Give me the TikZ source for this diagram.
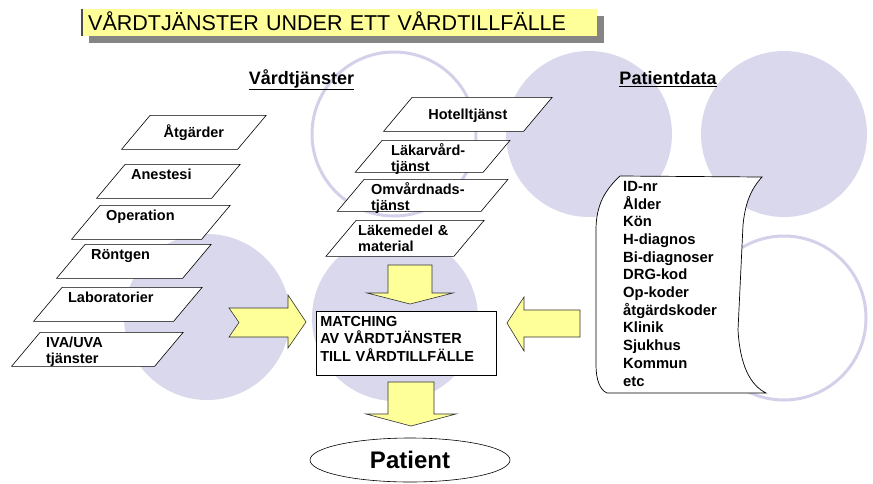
\documentclass[tikz,border=0pt]{standalone}
\usepackage{fontspec}
\setmainfont{Liberation Sans}
\usetikzlibrary{shapes.geometric, shadows}
\definecolor{lavender}{HTML}{D9D8EC}
\definecolor{lavring}{HTML}{D3D1EA}
\definecolor{paleyellow}{HTML}{FFFF99}
\definecolor{shadowgray}{HTML}{858585}

\newcommand{\boxfont}{\fontsize{14.5}{16.5}\selectfont\bfseries}

\begin{document}
\begin{tikzpicture}[
    x=1pt, y=-1pt,
    bubble/.style={circle, fill=lavender, minimum size=166pt, inner sep=0pt},
    ring/.style={circle, draw=lavring, line width=3pt, minimum size=164pt, inner sep=0pt},
    pgram/.style 2 args={trapezium, trapezium left angle=50, trapezium right angle=130,
                 draw=black, fill=white, line width=0.6pt, font=\boxfont,
                 text width=#1, align=left, inner xsep=6pt, inner ysep=0pt,
                 text height=15pt, text depth=#2, anchor=top left corner},
    heading/.style={font=\fontsize{18}{20}\selectfont\bfseries, anchor=base, inner sep=0pt},
    fatarrow/.style={fill=paleyellow, draw=black!80, line width=0.6pt, line join=miter},
  ]
    \useasboundingbox (0,0) rectangle (873,483);

    % background circles
    \foreach \cx/\cy in {207/317, 395/318, 589/134, 784/134}
      \node[bubble] (b-\cx-\cy) at (\cx,\cy) {};
    \foreach \cx/\cy in {394/134, 784/318}
      \node[ring] (r-\cx-\cy) at (\cx,\cy) {};

    % Title
    \node[fill=paleyellow,
          drop shadow={shadow xshift=7pt, shadow yshift=-7pt, fill=shadowgray, opacity=1},
          text width=503pt, align=left, inner xsep=6pt, inner ysep=0pt,
          minimum height=27pt, text height=15.4pt, text depth=0pt,
          font=\fontsize{21.5}{24}\selectfont, anchor=north west] (title) at (82,9)
          {VÅRDTJÄNSTER UNDER ETT VÅRDTILLFÄLLE};
    \draw[line width=1.2pt, black!70] (title.north west) -- (title.south west);

    \node[heading] (vtj)  at (301.5,84.5) {\underline{Vårdtjänster}};
    \node[heading] (pdat) at (668,84.5)   {\underline{Patientdata}};

    % Vardtjanster, left column
    \node[pgram={75.5pt}{12pt}, align=center, text height=22pt] (atg) at (150,115) {Åtgärder};
    \node[pgram={74.5pt}{19pt}]  (anes) at (125,164) {Anestesi};
    \node[pgram={89.5pt}{19pt}]  (oper) at (100,205) {Operation};
    \node[pgram={85.5pt}{19pt}]  (rtg)  at (85,244)  {Röntgen};
    \node[pgram={99.5pt}{19pt}]  (lab)  at (62,287)  {Laboratorier};
    \node[pgram={102.5pt}{19pt}] (iva)  at (40,332)  {IVA/UVA\\tjänster};

    % Vardtjanster, middle column
    \node[pgram={99.5pt}{12pt}, align=center, text height=22pt] (hotel) at (412,97) {Hotelltjänst};
    \node[pgram={83pt}{17pt}, inner xsep=9pt]   (lakv) at (382,140) {Läkarvård-\\tjänst};
    \node[pgram={103pt}{17pt}, inner xsep=7pt]  (omv)  at (364,179) {Omvårdnads-\\tjänst};
    \node[pgram={93.8pt}{21pt}, inner xsep=2pt] (lakm) at (356,220) {Läkemedel \&\\material};

    % Patientdata
    \filldraw[fill=white, draw=black, line width=0.7pt]
      (620,176) -- (762,177) .. controls (750,190) and (745,205) .. (743,225)
      -- (738,330) .. controls (740,365) and (750,385) .. (766,393)
      -- (607,393) .. controls (600,390) and (596,380) .. (596,365)
      -- (596,230) .. controls (596,205) and (605,190) .. (620,176) -- cycle;
    \node[font=\fontsize{14.8}{17.7}\selectfont\bfseries, align=left,
          anchor=north west, inner sep=0pt] (pdata) at (623,181)
      {ID-nr\\Ålder\\Kön\\H-diagnos\\Bi-diagnoser\\DRG-kod\\Op-koder\\åtgärdskoder\\Klinik\\Sjukhus\\Kommun\\etc};

    % Matchning
    \node[draw=black, fill=white, line width=0.6pt,
          font=\fontsize{14.5}{17.5}\selectfont\bfseries,
          text width=172pt, align=left, inner xsep=4pt, inner ysep=0pt,
          text height=15pt, text depth=49pt, anchor=north west] (match) at (316,311)
      {MATCHING\\AV VÅRDTJÄNSTER\\TILL VÅRDTILLFÄLLE};

    \node[ellipse, draw=black, fill=white, line width=0.6pt,
          minimum width=200pt, minimum height=44pt, inner sep=0pt,
          font=\fontsize{24}{26}\selectfont\bfseries] (patient) at (410,460) {Patient};

    % block arrows
    \filldraw[fatarrow] (388,265) -- (432,265) -- (432,293) -- (453,293) -- (410,304)
      -- (367,293) -- (388,293) -- cycle;
    \filldraw[fatarrow] (388,382) -- (434,382) -- (434,414) -- (456,414) -- (411,426)
      -- (366,414) -- (388,414) -- cycle;
    \filldraw[fatarrow] (229,308) -- (288,308) -- (288,295) -- (306,322) -- (288,348)
      -- (288,337) -- (229,337) -- (239,322.5) -- cycle;
    \filldraw[fatarrow] (580,310) -- (524,310) -- (524,297) -- (507,323) -- (524,351)
      -- (524,337) -- (580,337) -- cycle;
\end{tikzpicture}
\end{document}
